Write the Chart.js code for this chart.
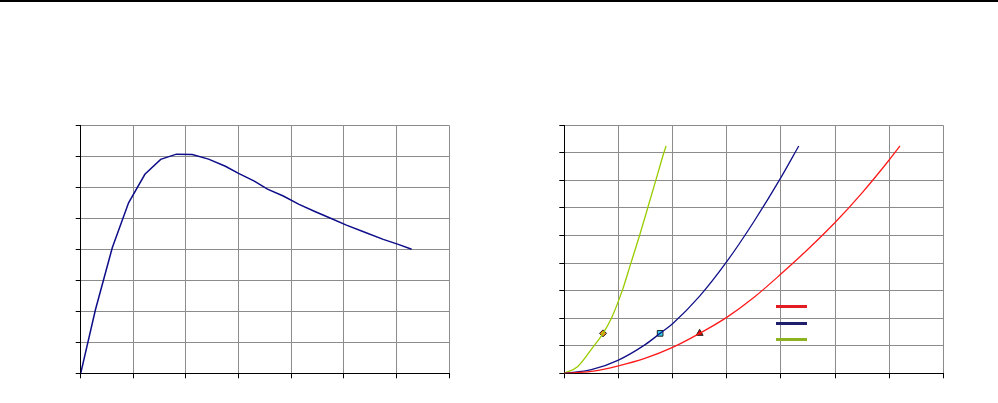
<!DOCTYPE html>
<html>
<head>
<meta charset="utf-8">
<script src="https://cdn.jsdelivr.net/npm/chart.js@4/dist/chart.umd.min.js"></script>
<style>
    html, body { margin: 0; padding: 0; background: #fff; width: 998px; height: 403px; overflow: hidden; }
    #topRule { position: absolute; left: 0; top: 0; width: 998px; height: 2px; background: #000; }
    .box { position: absolute; }
    #leftBox { left: 70px; top: 115px; width: 390px; height: 270px; }
    #rightBox { left: 550px; top: 115px; width: 410px; height: 270px; }
    .key { position: absolute; left: 776px; width: 31px; height: 3px; }
</style>
</head>
<body>
<div id="topRule"></div>
<div class="box" id="leftBox"><canvas id="leftChart"></canvas></div>
<div class="box" id="rightBox"><canvas id="rightChart"></canvas></div>
<div class="key" style="top:305px; background:#e31b23;"></div>
<div class="key" style="top:322px; background:#1f1f6e;"></div>
<div class="key" style="top:338px; background:#8db320;"></div>
<script>
// left chart: single curve
const leftX = [0, 0.28, 0.6, 0.91, 1.22, 1.52, 1.82, 2.12, 2.43, 2.75, 3.0, 3.3, 3.55, 3.85, 4.15, 4.45, 4.75, 5.05, 5.4, 5.75, 6.05, 6.29];
const leftY = [0, 2.05, 4.05, 5.5, 6.42, 6.9, 7.07, 7.06, 6.91, 6.68, 6.45, 6.2, 5.94, 5.72, 5.45, 5.22, 5.0, 4.78, 4.55, 4.32, 4.15, 4.0];

// right chart: three curves + one marker each
const redX = [0, 0.5, 1, 1.5, 2, 2.5, 3, 3.5, 4, 4.5, 5, 5.5, 6, 6.2];
const redY = [0, 0.07, 0.27, 0.55, 0.94, 1.45, 2.03, 2.75, 3.6, 4.5, 5.47, 6.55, 7.74, 8.25];
const blueX = [0, 0.5, 1, 1.5, 1.77, 2, 2.5, 3, 3.5, 4, 4.33];
const blueY = [0, 0.13, 0.48, 1.05, 1.45, 1.8, 2.8, 4.05, 5.5, 7.1, 8.25];
const greenX = [0, 0.25, 0.53, 0.715, 0.87, 1.07, 1.23, 1.39, 1.54, 1.69, 1.83, 1.88];
const greenY = [0, 0.25, 0.95, 1.45, 2, 3, 4, 5, 6, 7, 7.95, 8.25];
const markX = [2.5, 1.77, 0.715];
const markY = [1.45, 1.45, 1.45];

const toPoints = (xs, ys) => xs.map((x, i) => ({ x, y: ys[i] }));

const makeScales = (xMax, yMax) => {
    const axis = (max) => ({
        type: 'linear',
        min: 0,
        max: max,
        ticks: { display: false, stepSize: 1 },
        grid: { color: '#8c8c8c', lineWidth: 1, tickLength: 5, tickColor: '#000' },
        border: { color: '#000', width: 1 },
    });
    return { x: axis(xMax), y: axis(yMax) };
};

const baseOptions = (xMax, yMax, padding) => ({
    responsive: true,
    maintainAspectRatio: false,
    animation: false,
    layout: { padding },
    plugins: { legend: { display: false }, tooltip: { enabled: false } },
    scales: makeScales(xMax, yMax),
});

new Chart(document.getElementById('leftChart').getContext('2d'), {
    type: 'scatter',
    data: {
        datasets: [{
            data: toPoints(leftX, leftY),
            showLine: true,
            borderColor: '#0d0d8a',
            borderWidth: 1.5,
            pointRadius: 0,
            tension: 0,
        }]
    },
    options: baseOptions(7, 8, { left: 5.7, top: 10.3, right: 11, bottom: 6.7 }),
});

const curve = (xs, ys, color) => ({
    data: toPoints(xs, ys),
    showLine: true,
    borderColor: color,
    borderWidth: 1.3,
    pointRadius: 0,
    cubicInterpolationMode: 'monotone',
});

const marker = (i, style, fill, size) => ({
    data: [{ x: markX[i], y: markY[i] }],
    showLine: false,
    pointStyle: style,
    pointRadius: size,
    backgroundColor: fill,
    borderColor: '#222',
    borderWidth: 1,
});

new Chart(document.getElementById('rightChart').getContext('2d'), {
    type: 'scatter',
    data: {
        datasets: [
            curve(redX, redY, '#ff1a1a'),
            curve(blueX, blueY, '#101088'),
            curve(greenX, greenY, '#99cc00'),
            marker(0, 'triangle', '#e00000', 4),
            marker(1, 'rect', '#33ccee', 4),
            marker(2, 'rectRot', '#f09010', 3.5),
        ]
    },
    options: baseOptions(7, 9, { left: 9.3, top: 10.3, right: 16.7, bottom: 6.7 }),
});
</script>
</body>
</html>
